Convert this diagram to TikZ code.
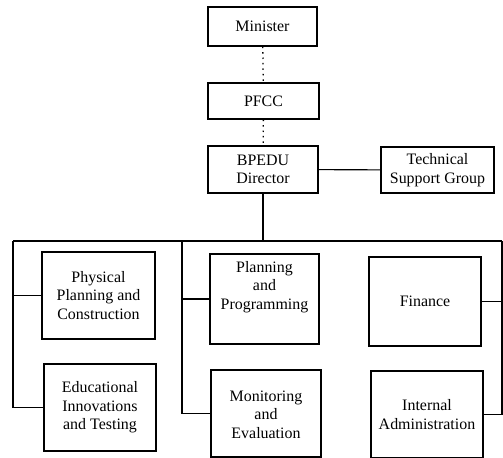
\documentclass[tikz,border=0pt]{standalone}
\usepackage{fontspec}
\setmainfont{Liberation Serif}
\usepackage{tikz}
\tikzset{>=latex}
\tikzset{
  unit/.style={draw,line width=1.1pt,align=center,inner sep=1pt},
  link/.style={line width=1.1pt},
  reports/.style={line width=1.3pt,dash pattern=on 1.5pt off 4pt},
}

\begin{document}
\begin{tikzpicture}[x=1bp,y=-1bp]
  \fontsize{16}{18.5}\selectfont
  
  % CANVAS
  \useasboundingbox (0,0) rectangle (503,458);
  
  % USER SETTINGS
  \def\xl{13}   % left branch line
  \def\xm{182}  % middle branch line
  \def\xr{502}  % right branch line
  \def\yb{241}  % main bus
  
  % HELP FUNCTION
  \def\unitNode(#1,#2,#3,#4,#5,#6){ % name, xpos, ypos, width, height, label
    \node[unit,minimum width=#4bp,minimum height=#5bp] (#1) at (#2,#3) {#6};
  }
  
  % TOP
  \unitNode(minister,262.5,26.5,109,39,Minister)
  \unitNode(pfcc,263.5,101,111,36,PFCC)
  \unitNode(bpedu,263,169.5,110,47,BPEDU\\Director)
  \unitNode(tsg,437.5,170,113,46,Technical\\Support Group)
  
  % UNITS
  \unitNode(phys,98.5,295.5,113,87,Physical\\Planning and\\Construction)
  \unitNode(edu,100,407.5,112,87,Educational\\Innovations\\and Testing)
  \unitNode(plan,264.5,299,109,90,Planning\\and\\Programming\\[9pt])
  \unitNode(mon,266,413.5,110,87,\\[-6pt]Monitoring\\and\\Evaluation)
  \unitNode(fin,425,301.5,112,89,Finance)
  \unitNode(int,427,414.5,112,87,Internal\\Administration)
  
  % BUS
  \coordinate (busL) at (\xl,\yb);
  \coordinate (busM) at (\xm,\yb);
  \coordinate (busR) at (\xr,\yb);
  \coordinate (busC) at (bpedu.south |- busL);
  
  % LINKS
  \draw[reports] (minister) -- (pfcc);
  \draw[reports] (pfcc) -- (bpedu);
  \draw[link] (bpedu) -- (tsg);
  \draw[link] (bpedu) -- (busC);
  \draw[link] (busL) -- (busR);
  \draw[link] (busL) |- (edu.west);
  \draw[link] (phys.west) -- (phys.west -| busL);
  \draw[link] (busM) |- (mon.west);
  \draw[link] (plan.west) -- (plan.west -| busM);
  \draw[link] (busR) |- (int.east);
  \draw[link] (fin.east) -- (fin.east -| busR);
  
\end{tikzpicture}
\end{document}
